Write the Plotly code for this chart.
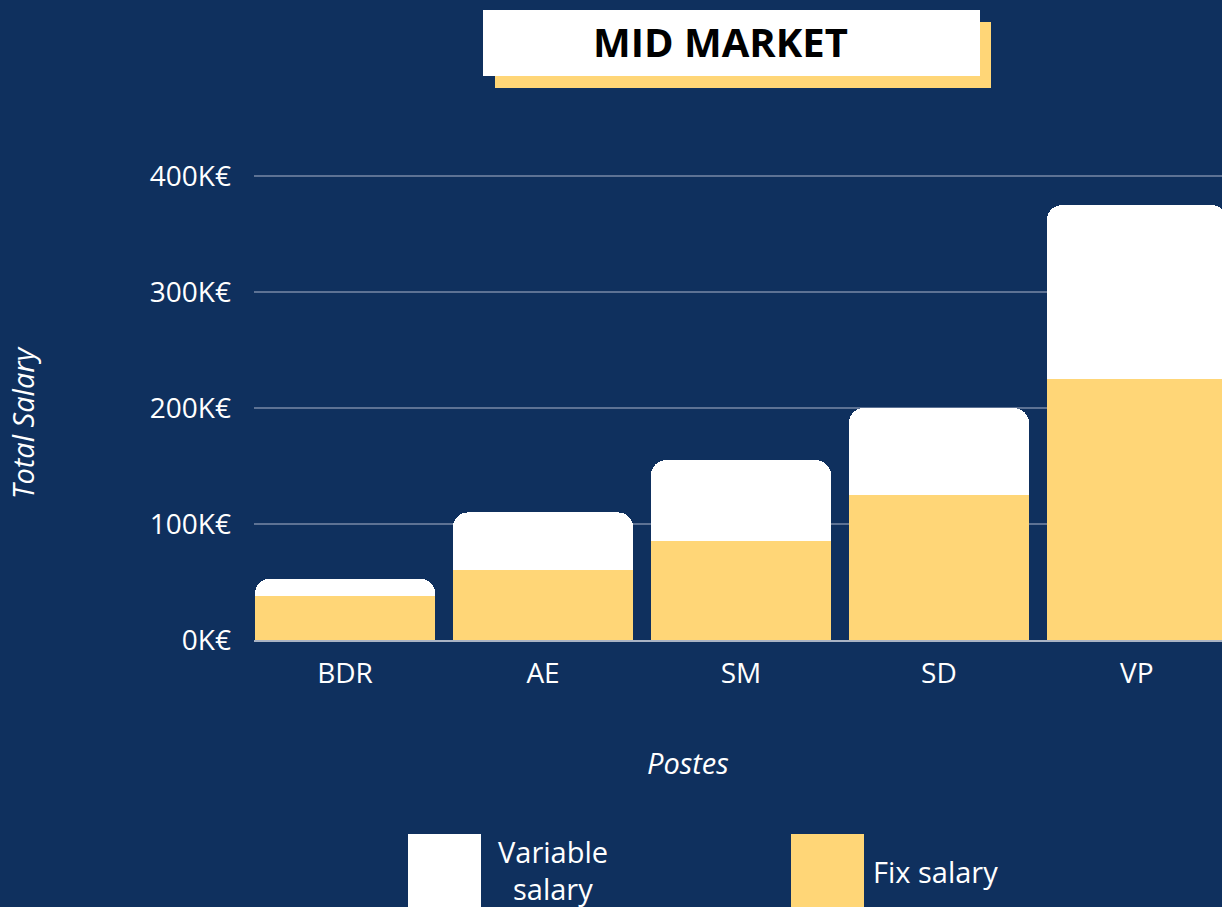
import plotly.graph_objects as go

categories = ["BDR", "AE", "SM", "SD", "VP"]
fix_salary = [38, 60, 85, 125, 225]          # K€
variable_salary = [15, 50, 70, 75, 150]      # K€
y_tick_vals = [0, 100, 200, 300, 400]
y_tick_text = ["0K€", "100K€", "200K€", "300K€", "400K€"]

BG = "#0F305E"
YELLOW = "#FFD677"
W, H = 1222, 907
PL, PR, PT, PB = 254, 1222, 153, 640  # plot area in pixels
FONT = "Open Sans"


def px(x):
    return (x - PL) / (PR - PL)


def py(y):
    return (PB - y) / (PB - PT)


fig = go.Figure()
fig.add_trace(go.Bar(x=categories, y=fix_salary, name="Fix salary",
                     marker=dict(color=YELLOW, line=dict(width=0))))
fig.add_trace(go.Bar(x=categories, y=variable_salary, name="Variable salary",
                     marker=dict(color="#FFFFFF", line=dict(width=0))))

shapes = [
    dict(type="rect", xref="paper", yref="paper", x0=px(495), x1=px(991), y0=py(88), y1=py(22),
         fillcolor=YELLOW, line=dict(width=0), layer="above"),
    dict(type="rect", xref="paper", yref="paper", x0=px(483), x1=px(980), y0=py(76), y1=py(10),
         fillcolor="#FFFFFF", line=dict(width=0), layer="above"),
    dict(type="rect", xref="paper", yref="paper", x0=px(408), x1=px(481), y0=py(910), y1=py(834),
         fillcolor="#FFFFFF", line=dict(width=0), layer="above"),
    dict(type="rect", xref="paper", yref="paper", x0=px(791), x1=px(864), y0=py(910), y1=py(834),
         fillcolor=YELLOW, line=dict(width=0), layer="above"),
]


def note(text, x, y, size, color="#FFFFFF", xanchor="center", angle=0):
    return dict(text=text, xref="paper", yref="paper", x=px(x), y=py(y), showarrow=False,
                textangle=angle, font=dict(family=FONT, size=size, color=color),
                xanchor=xanchor, yanchor="middle")


annotations = [
    note("<b>MID MARKET</b>", 720, 42, 40, color="#000000"),
    note("<i>Postes</i>", 688, 762, 29),
    note("<i>Total Salary</i>", 22, 423, 29, angle=-90),
    note("Variable", 553, 851, 29),
    note("salary", 553, 888, 29),
    note("Fix salary", 871, 871, 29, xanchor="left"),
]

fig.update_layout(
    width=W, height=H,
    barmode="stack", bargap=0.09, barcornerradius=15,
    paper_bgcolor=BG, plot_bgcolor=BG,
    margin=dict(l=PL, r=W - PR, t=PT, b=H - PB, pad=0),
    showlegend=False,
    shapes=shapes, annotations=annotations,
    font=dict(family=FONT, color="#FFFFFF"),
    xaxis=dict(range=[-0.46, 4.43], showgrid=False, showline=True, linecolor="#A9B3C4",
               linewidth=1.5, ticks="", ticklabelstandoff=8,
               tickfont=dict(family=FONT, size=28, color="#FFFFFF")),
    yaxis=dict(range=[0, 420], tickvals=y_tick_vals, ticktext=y_tick_text,
               showgrid=True, gridcolor="#5D7294", gridwidth=1.5, zeroline=False,
               ticks="", ticklabelstandoff=22,
               tickfont=dict(family=FONT, size=28, color="#FFFFFF")),
)

fig.write_html("out.html", config={"displayModeBar": False},
               post_script="document.body.style.margin='0';document.body.style.overflow='hidden';")
